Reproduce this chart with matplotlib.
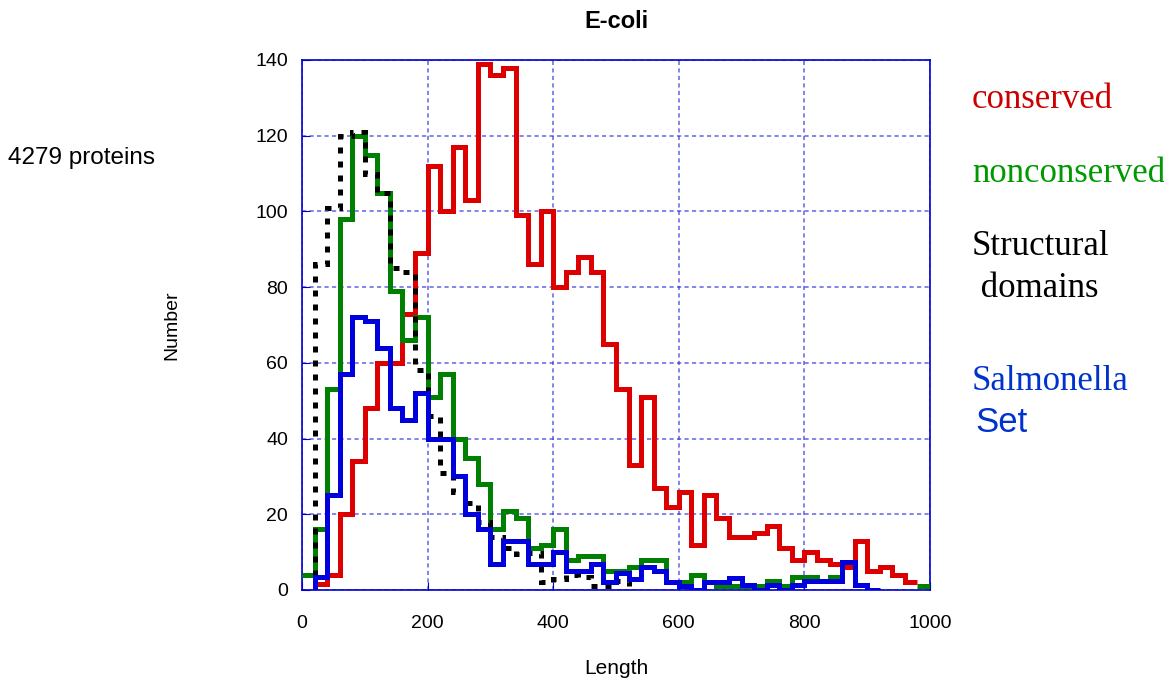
import numpy as np
import matplotlib
matplotlib.use("Agg")
import matplotlib.pyplot as plt

nan = np.nan

# bin edges: 0, 20, ..., 1000 (protein length)
edges = np.arange(0, 1001, 20)

# counts per bin
conserved = [nan, 1.5, 4, 20, 34, 48, 60, 60, 73, 89,
             112, 100, 117, 103, 139, 136, 138, 99, 86, 100,
             80, 84, 88, 84, 65, 53, 33, 51, 27, 22,
             26, 12, 25, 19, 14, 14, 15, 17, 11, 8,
             10, 8, 7, 6, 13, 5, 6, 4, 2, nan]
nonconserved = [4, 16, 53, 98, 120, 115, 105, 79, 66, 72,
                51, 57, 40, 35, 28, 16, 21, 19, 11, 12,
                16, 8, 9, 9, 5, 5, 6, 8, 8, 2,
                2, 4, 2, 1, 1, 1, 1, 2.4, 1, 3.5,
                3.5, 2.4, 3.5, nan, nan, nan, nan, nan, nan, 1]
domains = [nan, 86, 101, 120, 121, 110, 105, 85, 84, 58,
           46, 31, 26, 23, 18, 14, 11, 9.5, 9.8, 2,
           3, 4, 3.4, 1, 1, 2.4, nan, nan, nan, nan,
           nan, nan, nan, nan, nan, nan, nan, nan, nan, nan,
           nan, nan, nan, nan, nan, nan, nan, nan, nan, nan]
salmonella = [nan, 3.5, 25, 57, 72, 71, 64, 48, 45, 52,
              40, 40, 30, 20, 16, 7, 13, 13, 7, 7,
              10, 5, 5, 7, 2, 4.4, 3, 6, 5, 2,
              1, 0, 2, 2, 3.3, 1.3, 0, 1.3, 0, 1.3,
              2.4, 2.4, 2.4, 7.5, 1.3, 0, nan, nan, nan, nan]

xticks = [0, 200, 400, 600, 800, 1000]
yticks = [0, 20, 40, 60, 80, 100, 120, 140]

plt.rcParams['font.family'] = ['Liberation Sans', 'DejaVu Sans']

fig = plt.figure(figsize=(11.64, 6.79), dpi=100)
ax = fig.add_axes([302 / 1164, 89 / 679, 628 / 1164, 530 / 679])

lw = 3.6
ax.stairs(conserved, edges, baseline=None, color='#dd0000', lw=lw, joinstyle='miter', zorder=3)
ax.stairs(nonconserved, edges, baseline=None, color='#008000', lw=lw, joinstyle='miter', zorder=4)
ax.stairs(domains, edges, baseline=0, color='black', lw=lw, linestyle=(0, (1.2, 1.6)), zorder=5)
ax.stairs(salmonella, edges, baseline=0, color='#0000dd', lw=lw, joinstyle='miter', zorder=6)

ax.set_xlim(0, 1000)
ax.set_ylim(0, 140)
ax.set_xticks(xticks)
ax.set_yticks(yticks)
ax.tick_params(direction='in', length=6, color='#0000cc', labelsize=14)
ax.tick_params(axis='x', pad=18)
ax.tick_params(axis='y', pad=10)
for s in ax.spines.values():
    s.set_color('#0000cc')
    s.set_linewidth(1.2)
ax.grid(True, color='#3333dd', alpha=0.7, linestyle=(0, (2.5, 2)), linewidth=1.2)
ax.set_axisbelow(True)

fig.text(616 / 1164, 1 - 22 / 679, 'E-coli', fontsize=17, fontweight='bold', ha='center', va='center')
fig.text(616 / 1164, 1 - 668 / 679, 'Length', fontsize=15, ha='center', va='center')
fig.text(172 / 1164, 1 - 325 / 679, 'Number', fontsize=14, rotation=90, ha='center', va='center')
fig.text(8 / 1164, 1 - 158 / 679, '4279 proteins', fontsize=17.5, ha='left', va='center')

serif = ['Liberation Serif', 'DejaVu Serif']
fig.text(972 / 1164, 1 - 100 / 679, 'conserved', fontsize=25, color='#cc0000', family=serif, va='center')
fig.text(972 / 1164, 1 - 174 / 679, 'nonconserved', fontsize=25, color='#009900', family=serif, va='center')
fig.text(972 / 1164, 1 - 246 / 679, 'Structural', fontsize=25, color='black', family=serif, va='center')
fig.text(972 / 1164, 1 - 288 / 679, ' domains', fontsize=25, color='black', family=serif, va='center')
fig.text(972 / 1164, 1 - 382 / 679, 'Salmonella', fontsize=25, color='#0033cc', family=serif, va='center')
fig.text(975 / 1164, 1 - 422 / 679, 'Set', fontsize=25, color='#0033cc', va='center')

fig.savefig('out.png', dpi=100)
